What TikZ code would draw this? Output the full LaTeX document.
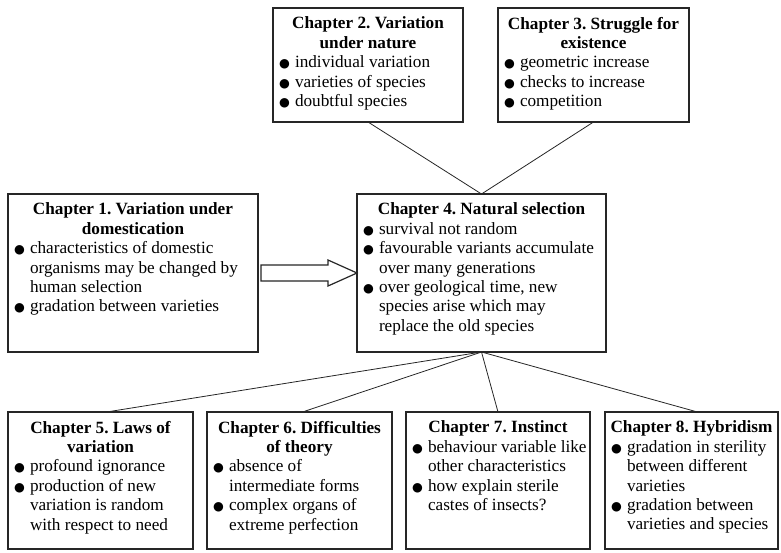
\documentclass[tikz,border=0pt]{standalone}
\usepackage{fontspec}
\setmainfont{Liberation Serif}
\newfontfamily\dotfont{DejaVu Sans}
\usepackage{graphicx}
\usetikzlibrary{calc}
\tikzset{
  chbox/.style = {rectangle, draw=black!85, line width=1.6pt, anchor=north west,
    inner xsep=0pt, inner ysep=9pt, outer sep=0pt},% chapter box
  link/.style = {draw=black!85, line width=0.8pt},% plain connector
  fatarrow/.style = {draw=black!85, line width=1.2pt, fill=white}% hollow arrow
}
\newcommand{\chdot}{\makebox[17pt][l]{\hspace{1pt}\scalebox{0.72}{\dotfont ●}}}
\newcommand{\chitem}[1]{\par\hangindent=17pt\hangafter=1\noindent\chdot#1\par}
\newcommand{\chcontent}[4]{% width, height, title, items
  \parbox[t][\dimexpr#2pt-18pt\relax][t]{#1pt}{%
    \fontsize{17.2}{19.4}\selectfont\frenchspacing\raggedright\leftskip=5pt
    {\centering\bfseries #3\par}#4}}

\begin{document}
\begin{tikzpicture}[x=1pt,y=1pt]
\useasboundingbox (0,0) rectangle (781,-552);
% top row
\node [chbox] (ch2) at (273,-8) {\chcontent{190}{114}{Chapter 2. Variation\\under nature}{%
  \chitem{individual variation}\chitem{varieties of species}\chitem{doubtful species}}};
\node [chbox] (ch3) at (498,-8) {\chcontent{191}{114}{Chapter 3. Struggle for\\existence}{%
  \chitem{geometric increase}\chitem{checks to increase}\chitem{competition}}};
% middle row
\node [chbox] (ch1) at (8,-194) {\chcontent{250}{158}{Chapter 1. Variation under\\domestication}{%
  \chitem{characteristics of domestic\newline organisms may be changed by\newline human selection}%
  \chitem{gradation between varieties}}};
\node [chbox] (ch4) at (357,-194) {\chcontent{249}{158}{Chapter 4. Natural selection}{%
  \chitem{survival not random}%
  \chitem{favourable variants accumulate\newline over many generations}%
  \chitem{over geological time, new\newline species arise which may\newline replace the old species}}};
% bottom row
\node [chbox] (ch5) at (8,-412) {\chcontent{185}{137}{Chapter 5. Laws of\\variation}{%
  \chitem{profound ignorance}%
  \chitem{production of new\newline variation is random\newline with respect to need}}};
\node [chbox] (ch6) at (207,-412) {\chcontent{185}{137}{Chapter 6. Difficulties\\of theory}{%
  \chitem{absence of\newline intermediate forms}%
  \chitem{complex organs of\newline extreme perfection}}};
\node [chbox] (ch7) at (406,-412) {\chcontent{184}{137}{Chapter 7. Instinct}{%
  \chitem{behaviour variable like\newline other characteristics}%
  \chitem{how explain sterile\newline castes of insects?}}};
\node [chbox] (ch8) at (605,-412) {\chcontent{173}{137}{Chapter 8. Hybridism}{%
  \chitem{gradation in sterility\newline between different\newline varieties}%
  \chitem{gradation between\newline varieties and species}}};
% connectors
\draw [link] (ch2.south) -- (ch4.north);
\draw [link] (ch3.south) -- (ch4.north);
\foreach \c/\s in {ch5/6,ch6/3,ch7/0,ch8/6}
  \draw [link] (ch4.south) -- ([xshift=\s pt]\c.north);
\draw [fatarrow] ($(ch1.east)+(3,8)$) -- ++(67,0) -- ++(0,5) -- (ch4.west)
  -- ($(ch1.east)+(70,-13)$) -- ++(0,5) -- ++(-67,0) -- cycle;
\end{tikzpicture}
\end{document}
